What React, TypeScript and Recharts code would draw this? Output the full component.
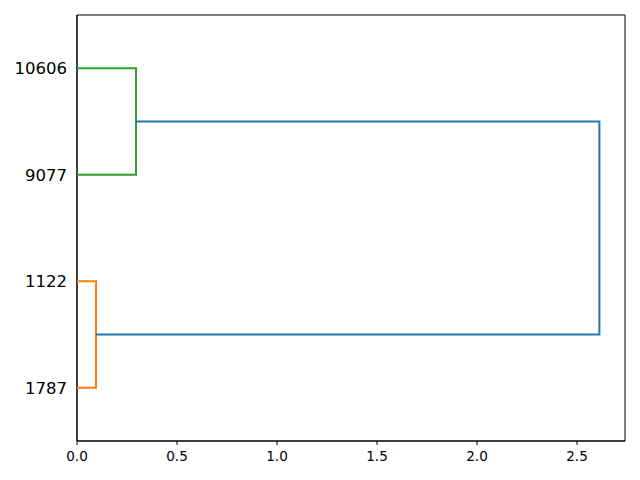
import React from 'react';
import { ScatterChart, Scatter, XAxis, YAxis, ReferenceArea } from 'recharts';

// leaf labels, bottom to top (scipy places leaves at 5, 15, 25, 35)
const leafLabels = ['1787', '1122', '9077', '10606'];
const leafPositions = [5, 15, 25, 35];
const xTicks = [0, 0.5, 1.0, 1.5, 2.0, 2.5];

// merge heights (distance)
const mergeOrange = 0.095;
const mergeGreen = 0.295;
const mergeBlue = 2.612;

// each link: [x, y] points of the bracket
const linkOrange = [
  { x: 0, y: 5 }, { x: mergeOrange, y: 5 }, { x: mergeOrange, y: 15 }, { x: 0, y: 15 },
];
const linkGreen = [
  { x: 0, y: 25 }, { x: mergeGreen, y: 25 }, { x: mergeGreen, y: 35 }, { x: 0, y: 35 },
];
const linkBlue = [
  { x: mergeOrange, y: 10 }, { x: mergeBlue, y: 10 }, { x: mergeBlue, y: 30 }, { x: mergeGreen, y: 30 },
];

const links = [
  { data: linkOrange, color: '#ff7f0e' },
  { data: linkGreen, color: '#2ca02c' },
  { data: linkBlue, color: '#1f77b4' },
];

const font = 'DejaVu Sans, sans-serif';

export default function App() {
  return (
    <div style={{ position: 'absolute', left: 0, top: 0, background: '#fff' }}>
      <ScatterChart width={640} height={480} margin={{ top: 15, right: 15, left: 0, bottom: 0 }}>
        <XAxis
          type="number"
          dataKey="x"
          domain={[0, 2.74]}
          ticks={xTicks}
          tickFormatter={(v) => v.toFixed(1)}
          allowDataOverflow
          height={39}
          stroke="#000"
          tickSize={4}
          tickMargin={6}
          tick={{ fill: '#000', fontSize: 13.5, fontFamily: font }}
        />
        <YAxis
          type="number"
          dataKey="y"
          domain={[0, 40]}
          ticks={leafPositions}
          tickFormatter={(v) => leafLabels[leafPositions.indexOf(v)]}
          allowDataOverflow
          width={77}
          stroke="#000"
          tickLine={false}
          tickSize={6}
          tickMargin={4}
          tick={{ fill: '#000', fontSize: 16.5, fontFamily: font }}
        />
        <ReferenceArea x1={0} x2={2.74} y1={0} y2={40} fill="none" stroke="#000" strokeWidth={1} ifOverflow="extendDomain" />
        {links.map((l, i) => (
          <Scatter
            key={i}
            data={l.data}
            line={{ stroke: l.color, strokeWidth: 2 }}
            strokeWidth={2}
            lineType="joint"
            shape={() => null}
            isAnimationActive={false}
          />
        ))}
      </ScatterChart>
    </div>
  );
}
